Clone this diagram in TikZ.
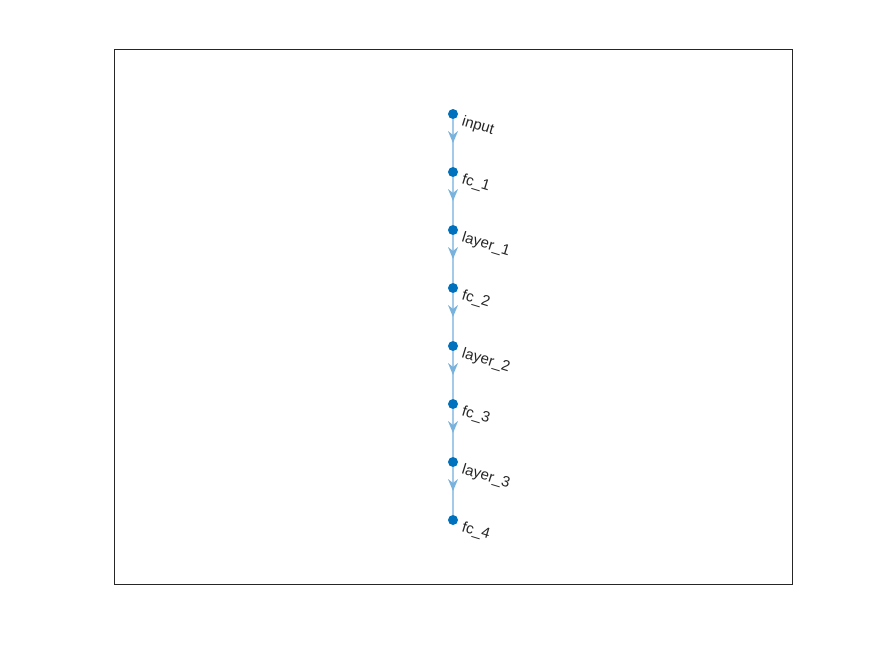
\documentclass[tikz,border=0pt]{standalone}
\usepackage{fontspec}
\setmainfont{Liberation Sans}
\usetikzlibrary{arrows.meta,decorations.markings}
\definecolor{nodeblue}{HTML}{0072BD}
\definecolor{edgeblue}{HTML}{A3CBE9}
\definecolor{tipblue}{HTML}{78B2DD}
\definecolor{axgray}{HTML}{262626}

\begin{document}
\begin{tikzpicture}[x=1pt, y=-1pt,
  lyr/.style={circle, fill=nodeblue, inner sep=0pt, minimum size=10pt},
  lbl/.style={anchor=base west, rotate=-17, inner sep=0pt, text=axgray,
              font=\fontsize{15}{17}\selectfont},
  edge/.style={edgeblue, line width=1.6pt, postaction={decorate},
               decoration={markings, mark=at position 0.5 with
                 {\arrow{Stealth[length=12pt,width=10pt,inset=4pt,color=tipblue]}}}}]
  \useasboundingbox (0,0) rectangle (875,657);
  % axes frame
  \draw[axgray, line width=0.8pt] (114,49) rectangle (792,584);
  % layers
  \foreach \nm/\txt [count=\i from 0] in {input/input, fc1/fc\_1, layer1/layer\_1,
      fc2/fc\_2, layer2/layer\_2, fc3/fc\_3, layer3/layer\_3, fc4/fc\_4} {
    \node[lyr] (\nm) at (453,114+58*\i) {};
    \node[lbl] (\nm-lbl) at (461,125+58*\i) {\txt};
  }
  % connections
  \foreach \a/\b in {input/fc1, fc1/layer1, layer1/fc2, fc2/layer2,
      layer2/fc3, fc3/layer3, layer3/fc4}
    \draw[edge] (\a) -- (\b);
\end{tikzpicture}
\end{document}
